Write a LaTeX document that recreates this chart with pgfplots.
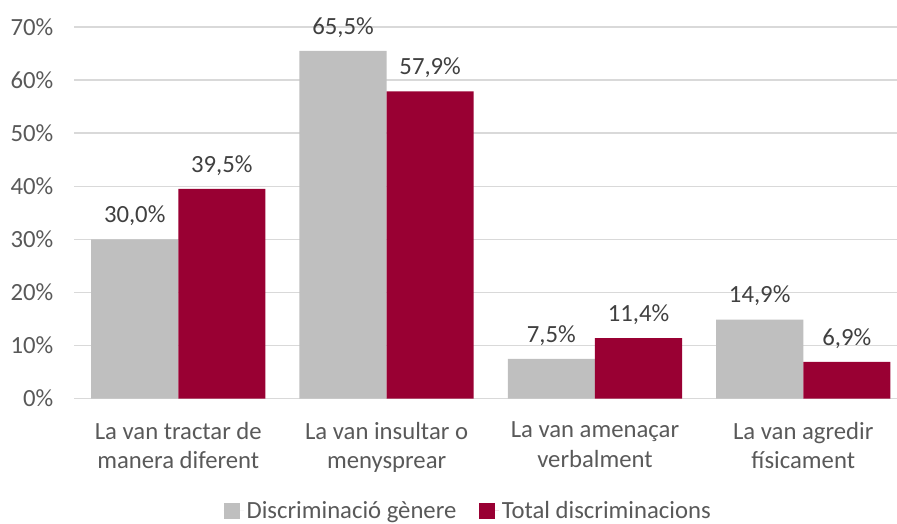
\documentclass[border=0pt]{standalone}
\usepackage{pgfplots}
\pgfplotsset{compat=1.18}
\usepackage{fontspec}
\setmainfont{Carlito}
\usetikzlibrary{calc}
\definecolor{gris}{HTML}{BFBFBF}
\definecolor{granat}{HTML}{990033}
\definecolor{reixa}{HTML}{D9D9D9}
\definecolor{txt}{HTML}{595959}
\definecolor{etq}{HTML}{404040}
\begin{document}
\begin{tikzpicture}
\begin{axis}[
    ybar=0pt,
    x=156pt, y=3.975pt,
    xmin=-0.5, xmax=3.45, ymin=0, ymax=70,
    bar width=65.25pt,
    axis line style={draw=none},
    major tick length=0pt,
    ymajorgrids, grid style={reixa, line width=1.1pt},
    ytick={0,10,...,70},
    yticklabel={\pgfmathprintnumber{\tick}\%},
    /pgf/number format/assume math mode=true,
    yticklabel style={font=\fontsize{18.5}{20.5}\selectfont, text=txt, xshift=-12pt},
    xtick=data,
    xticklabels={{La van tractar de\\manera diferent},{La van insultar o\\menysprear},{La van amenaçar\\verbalment},{La van agredir\\físicament}},
    xticklabel style={font=\fontsize{18.5}{22}\selectfont, text=txt, align=center, yshift=-14pt},
    nodes near coords={\pgfmathprintnumber[fixed,fixed zerofill,precision=1,use comma]{\pgfplotspointmeta}\%},
    every node near coord/.append style={font=\fontsize{18.5}{20.5}\selectfont, text=etq, anchor=base, yshift=12.5pt},
    legend style={draw=none, at={(axis cs:1.394,-21.1)}, anchor=center, legend columns=2,
        font=\fontsize{18.5}{20.5}\selectfont, text=txt,
        /tikz/every even column/.append style={column sep=15pt}},
    legend image code/.code={\fill[#1] (0pt,-6pt) rectangle (12pt,6pt); \path (0pt,0pt) -- (15pt,0pt);},
    clip=false,
]
\addplot[fill=gris, draw=none] coordinates {(0,30.0) (1,65.5) (2,7.5) (3,14.9)};
\addplot[fill=granat, draw=none] coordinates {(0,39.5) (1,57.9) (2,11.4) (3,6.9)};
\legend{Discriminació gènere, Total discriminacions}
\coordinate (O) at (axis cs:-0.5,0);
\coordinate (R) at (axis cs:3.45,0);
\end{axis}
\pgfresetboundingbox
\path ($(O)+(-55.5pt,-93.75pt)$) rectangle ($(R)+(0pt,298.5pt)$);
\end{tikzpicture}
\end{document}
